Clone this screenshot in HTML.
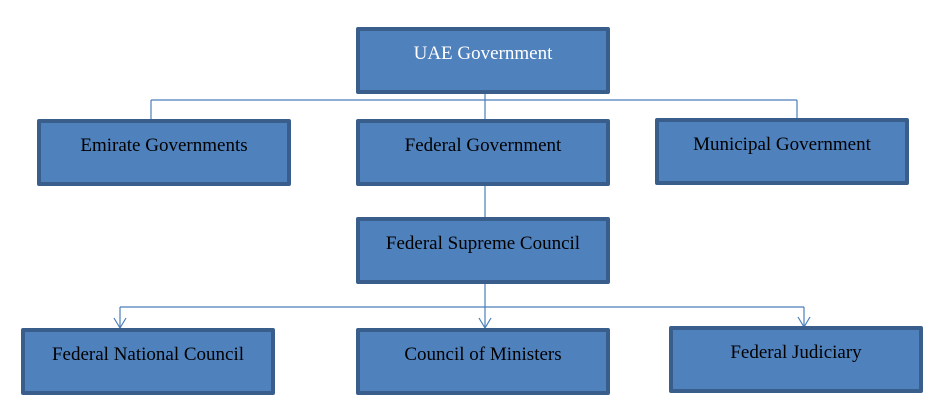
<!DOCTYPE html>
<html><head><meta charset="utf-8"><style>
html,body{margin:0;padding:0;background:#fff;width:943px;height:408px;overflow:hidden}
.b{position:absolute;box-sizing:border-box;width:254px;height:67px;background:#4f81bd;border:4px solid #3a5e8c;border-radius:2px;
font-family:"Liberation Serif",serif;font-size:19px;color:#000;text-align:center;padding-top:12px}
svg{position:absolute;left:0;top:0}
</style></head><body>
<svg width="943" height="408">
<g stroke="#4a7ebb" stroke-width="1.2" fill="none">
<path d="M151 100H797M151 100V120M797 100V119M485 90V218"/>
<path d="M120 307H804M120 307V328M804 307V327M485 283V328"/>
<path d="M114 318L120 328L126 318M479 318L485 328L491 318M798 317L804 327L810 317"/>
</g></svg>
<div class="b" style="left:356px;top:27px;color:#fff">UAE Government</div>
<div class="b" style="left:37px;top:119px">Emirate Governments</div>
<div class="b" style="left:356px;top:119px">Federal Government</div>
<div class="b" style="left:655px;top:118px">Municipal Government</div>
<div class="b" style="left:356px;top:217px">Federal Supreme Council</div>
<div class="b" style="left:21px;top:328px">Federal National Council</div>
<div class="b" style="left:356px;top:328px">Council of Ministers</div>
<div class="b" style="left:669px;top:326px">Federal Judiciary</div>
</body></html>
